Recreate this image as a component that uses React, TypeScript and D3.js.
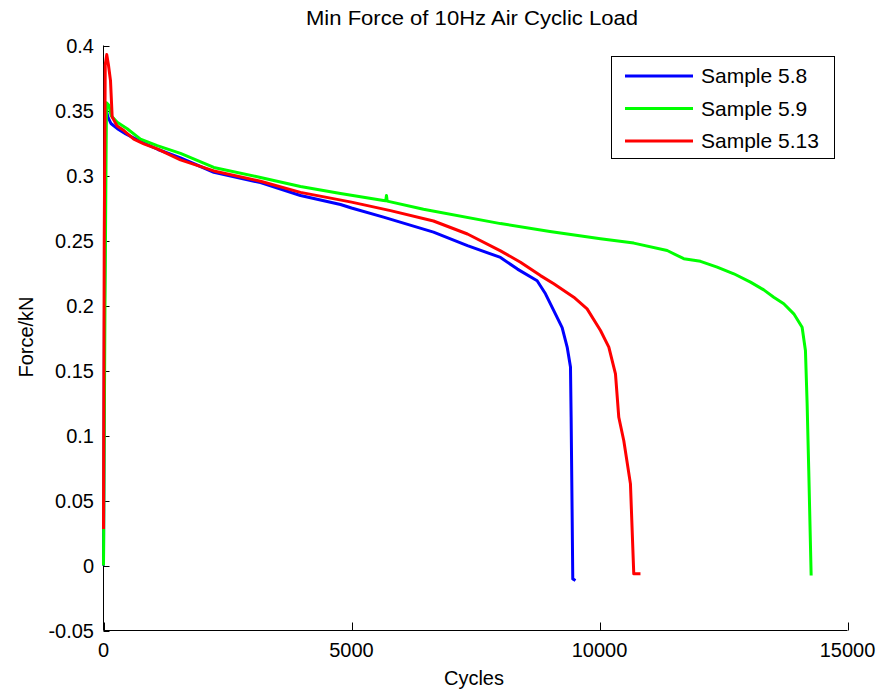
import React from "react";
import * as d3 from "d3";

const seriesNames = ["Sample 5.8", "Sample 5.9", "Sample 5.13"];
const seriesColors = ["#0000ff", "#00ff00", "#ff0000"];

const sample58: [number, number][] = [
  [0, 0.0], [20, 0.2], [45, 0.352], [90, 0.345], [150, 0.34], [280, 0.336], [450, 0.332],
  [750, 0.326], [1100, 0.32], [1552, 0.3135], [2224, 0.3025], [3165, 0.2945], [3971, 0.2846],
  [4778, 0.2777], [5000, 0.275], [5645, 0.268], [6653, 0.2564], [7338, 0.246], [8004, 0.237],
  [8346, 0.228], [8743, 0.219], [8911, 0.209], [9078, 0.196], [9247, 0.183], [9348, 0.168],
  [9415, 0.1526], [9428, 0.114], [9449, 0.037], [9461, -0.0103], [9516, -0.0115],
];

const sample59: [number, number][] = [
  [0, 0.0], [30, 0.2], [60, 0.356], [108, 0.354], [155, 0.346], [276, 0.341], [478, 0.336],
  [746, 0.328], [1083, 0.323], [1552, 0.317], [2224, 0.3062], [3165, 0.2985], [3971, 0.2915],
  [4778, 0.2862], [5645, 0.2808], [5690, 0.2805], [5705, 0.2846], [5720, 0.2803], [6451, 0.274],
  [8004, 0.263], [9000, 0.257], [10020, 0.2513], [10691, 0.248], [11364, 0.2423], [11699, 0.236],
  [12036, 0.234], [12372, 0.2295], [12708, 0.2244], [13044, 0.218], [13312, 0.212], [13513, 0.2064],
  [13715, 0.2013], [13917, 0.1936], [14085, 0.1833], [14152, 0.1654], [14186, 0.1244],
  [14219, 0.073], [14267, -0.0077],
];

const sample513: [number, number][] = [
  [0, 0.028], [15, 0.25], [35, 0.385], [65, 0.393], [100, 0.385], [141, 0.373], [175, 0.345],
  [276, 0.338], [410, 0.3346], [611, 0.328], [813, 0.3244], [1083, 0.3205], [1552, 0.312],
  [2224, 0.3035], [3165, 0.2956], [3971, 0.287], [5000, 0.2795], [5786, 0.273], [6653, 0.265],
  [7338, 0.255], [8004, 0.242], [8407, 0.2333], [8810, 0.223], [9078, 0.2167], [9481, 0.2064],
  [9750, 0.1974], [10020, 0.1808], [10188, 0.168], [10322, 0.1474], [10389, 0.114], [10490, 0.096],
  [10624, 0.0628], [10691, -0.0064], [10826, -0.0064],
];

const xTicks = [0, 5000, 10000, 15000];
const yTicks = [-0.05, 0, 0.05, 0.1, 0.15, 0.2, 0.25, 0.3, 0.35, 0.4];

const titleText = "Min Force of 10Hz Air Cyclic Load";
const xLabel = "Cycles";
const yLabel = "Force/kN";

export default function App() {
  const W = 883, H = 693;
  const left = 103.5, right = 847.5, top = 45.5, bottom = 630.5;
  const x = d3.scaleLinear().domain([0, 15000]).range([left, right]);
  const y = d3.scaleLinear().domain([-0.05, 0.4]).range([bottom, top]);
  const line = d3.line<[number, number]>().x((d) => x(d[0])).y((d) => y(d[1]));
  const data = [sample58, sample59, sample513];
  const font = "'Liberation Sans', Arial, sans-serif";

  return (
    <svg width={W} height={H} style={{ position: "absolute", left: 0, top: 0, background: "#fff" }} fontFamily={font}>
      <rect x={0} y={0} width={W} height={H} fill="#fff" />
      <text x={472} y={25} fontSize={20} textAnchor="middle" textLength={332} lengthAdjust="spacingAndGlyphs">{titleText}</text>
      {/* axes */}
      <line x1={left} x2={left} y1={top} y2={bottom} stroke="#000" strokeWidth={1} />
      <line x1={left} x2={right} y1={bottom} y2={bottom} stroke="#000" strokeWidth={1} />
      {yTicks.map((t) => (
        <g key={"y" + t}>
          <line x1={left} x2={left + 6} y1={Math.round(y(t)) + 0.5} y2={Math.round(y(t)) + 0.5} stroke="#000" />
          <text x={94} y={y(t)} dy="0.35em" fontSize={20} textAnchor="end">{String(t)}</text>
        </g>
      ))}
      {xTicks.map((t) => (
        <g key={"x" + t}>
          <line x1={Math.round(x(t)) + 0.5} x2={Math.round(x(t)) + 0.5} y1={bottom} y2={bottom - 8} stroke="#000" />
          <text x={x(t)} y={657} fontSize={20} textAnchor="middle">{String(t)}</text>
        </g>
      ))}
      <text x={474} y={685} fontSize={20} textAnchor="middle">{xLabel}</text>
      <text transform={`translate(33,337) rotate(-90)`} fontSize={20} textAnchor="middle">{yLabel}</text>
      {/* series */}
      {data.map((d, i) => (
        <path key={i} d={line(d) || ""} fill="none" stroke={seriesColors[i]} strokeWidth={3} strokeLinejoin="round" />
      ))}
      {/* legend */}
      <rect x={611.5} y={56.5} width={223} height={102} fill="#fff" stroke="#000" strokeWidth={1} />
      {seriesNames.map((n, i) => (
        <g key={n}>
          <line x1={625} x2={693} y1={76 + i * 32.5} y2={76 + i * 32.5} stroke={seriesColors[i]} strokeWidth={3} />
          <text x={701} y={76 + i * 32.5} dy="0.35em" fontSize={21}>{n}</text>
        </g>
      ))}
    </svg>
  );
}
